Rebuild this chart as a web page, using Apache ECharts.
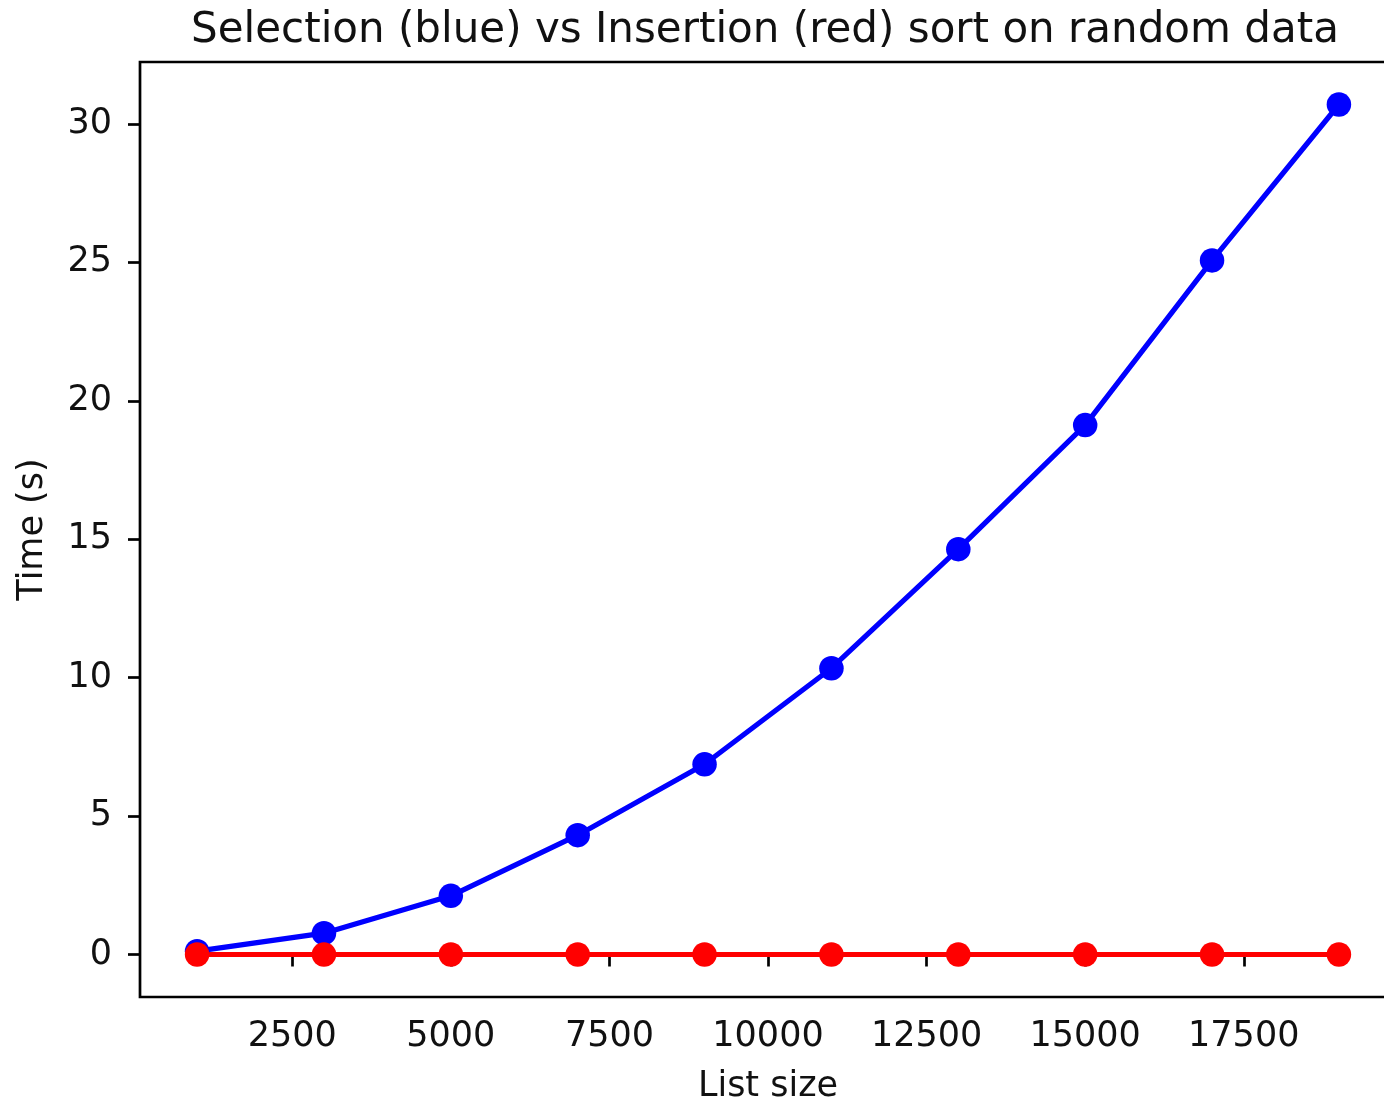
<!DOCTYPE html>
<html>
<head>
<meta charset="utf-8">
<script src="https://cdn.jsdelivr.net/npm/echarts@6/dist/echarts.min.js"></script>
<style>
html, body { margin: 0; padding: 0; overflow: hidden; background: #fff; width: 1384px; height: 1100px; }
#chart { position: absolute; left: 0; top: 0; width: 1400px; height: 1100px; }
</style>
</head>
<body>
<div id="chart"></div>
<script>
const listSizes = [1000, 3000, 5000, 7000, 9000, 11000, 13000, 15000, 17000, 19000];
const selectionTimes = [0.12, 0.77, 2.12, 4.31, 6.87, 10.34, 14.64, 19.12, 25.07, 30.7];
const insertionTimes = [0.0, 0.0, 0.0, 0.0, 0.0, 0.0, 0.0, 0.0, 0.0, 0.0];
const xTicks = [2500, 5000, 7500, 10000, 12500, 15000, 17500];
const yTicks = [0, 5, 10, 15, 20, 25, 30];

const xMinD = Math.min(...listSizes), xMaxD = Math.max(...listSizes);
const xPad = (xMaxD - xMinD) * 0.05;
const allY = selectionTimes.concat(insertionTimes);
const yMinD = Math.min(...allY), yMaxD = Math.max(...allY);
const yPad = (yMaxD - yMinD) * 0.05;

const font = 'DejaVu Sans';
const txt = '#111';
const chart = echarts.init(document.getElementById('chart'), null, { renderer: 'canvas' });
chart.setOption({
  animation: false,
  backgroundColor: '#fff',
  title: {
    text: 'Selection (blue) vs Insertion (red) sort on random data',
    left: 760,
    textAlign: 'center',
    top: 5,
    textStyle: { fontFamily: font, fontSize: 42, fontWeight: 'normal', color: txt }
  },
  grid: {
    left: 140, top: 62, width: 1256, height: 935,
    show: true, borderColor: '#000', borderWidth: 2.7, backgroundColor: 'transparent',
    containLabel: false, outerBoundsMode: 'none'
  },
  xAxis: {
    type: 'value',
    min: xMinD - xPad, max: xMaxD + xPad,
    name: 'List size', nameLocation: 'middle', nameGap: 72,
    nameTextStyle: { fontFamily: font, fontSize: 35, color: txt },
    axisLine: { show: false },
    axisTick: { show: true, length: 12, customValues: xTicks, lineStyle: { color: '#000', width: 2.7 } },
    axisLabel: { customValues: xTicks, margin: 22, fontFamily: font, fontSize: 35, color: txt,
                 formatter: v => String(v) },
    splitLine: { show: false }
  },
  yAxis: {
    type: 'value',
    min: yMinD - yPad, max: yMaxD + yPad,
    name: 'Time (s)', nameLocation: 'middle', nameGap: 90, nameRotate: 90,
    nameTextStyle: { fontFamily: font, fontSize: 35, color: txt },
    axisLine: { show: false },
    axisTick: { show: true, length: 12, customValues: yTicks, lineStyle: { color: '#000', width: 2.7 } },
    axisLabel: { customValues: yTicks, margin: 28, fontFamily: font, fontSize: 35, color: txt,
                 formatter: v => String(v) },
    splitLine: { show: false }
  },
  series: [
    {
      type: 'line', name: 'Selection',
      data: listSizes.map((x, i) => [x, selectionTimes[i]]),
      symbol: 'circle', symbolSize: 24.5, showAllSymbol: true,
      lineStyle: { color: '#0000ff', width: 5.2 },
      itemStyle: { color: '#0000ff' }
    },
    {
      type: 'line', name: 'Insertion',
      data: listSizes.map((x, i) => [x, insertionTimes[i]]),
      symbol: 'circle', symbolSize: 24.5, showAllSymbol: true,
      lineStyle: { color: '#ff0000', width: 5.2 },
      itemStyle: { color: '#ff0000' }
    }
  ]
});
</script>
</body>
</html>
